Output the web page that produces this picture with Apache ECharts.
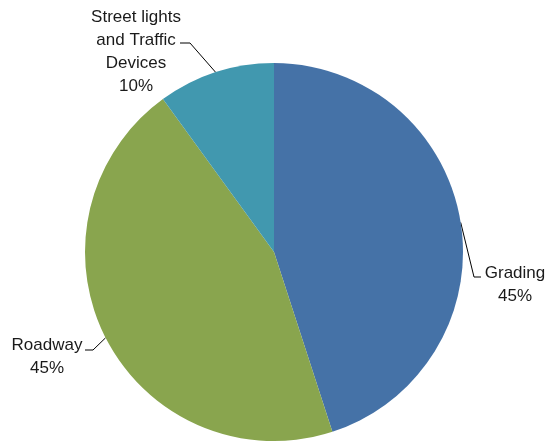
<!DOCTYPE html>
<html>
<head>
<meta charset="utf-8">
<script src="https://cdn.jsdelivr.net/npm/echarts@6/dist/echarts.min.js"></script>
<style>
  html, body { margin: 0; padding: 0; background: #fff; }
  #chart { width: 548px; height: 442px; }
</style>
</head>
<body>
<div id="chart"></div>
<script>
var categories = ['Grading', 'Roadway', 'Street lights and Traffic Devices']
var values = [45, 45, 10]
var colors = ['#4572A7', '#89A54E', '#4198AF']

// label anchor (text center) and leader line bends, per slice
var labelPos = [
  { x: 515, y: 285, bend: [474, 277], end: [481, 277] },
  { x: 47, y: 357, bend: [93, 350], end: [85, 350] },
  { x: 136, y: 52, bend: [190, 43], end: [180, 43] }
]

var chart = echarts.init(document.getElementById('chart'), null, { renderer: 'canvas' })

var seriesData = []
for (var i = 0; i < categories.length; i++) {
  seriesData.push({ name: categories[i], value: values[i], itemStyle: { color: colors[i] } })
}

var option = {
  animation: false,
  series: [
    {
      type: 'pie',
      center: [274, 252],
      radius: 189,
      startAngle: 90,
      clockwise: true,
      avoidLabelOverlap: false,
      itemStyle: { borderWidth: 0 },
      label: {
        show: true,
        position: 'outside',
        alignTo: 'none',
        overflow: 'none',
        fontFamily: 'Liberation Sans, Arial, sans-serif',
        fontSize: 17,
        lineHeight: 23,
        color: '#1a1a1a',
        align: 'center',
        formatter: function(p) {
          var name = p.name.replace(' and ', '\nand ').replace(' Devices', '\nDevices')
          return name + '\n' + Math.round(p.percent) + '%'
        }
      },
      labelLine: {
        show: true,
        length: 10,
        length2: 8,
        lineStyle: { color: '#000', width: 1 }
      },
      labelLayout: function(params) {
        var lp = labelPos[params.dataIndex]
        var pts = params.labelLinePoints
        return {
          x: lp.x,
          y: lp.y,
          align: 'center',
          verticalAlign: 'middle',
          labelLinePoints: [pts[0], lp.bend, lp.end]
        }
      },
      data: seriesData
    }
  ]
}
chart.setOption(option)
window.addEventListener('resize', function() {
  chart.resize()
})
</script>
</body>
</html>
